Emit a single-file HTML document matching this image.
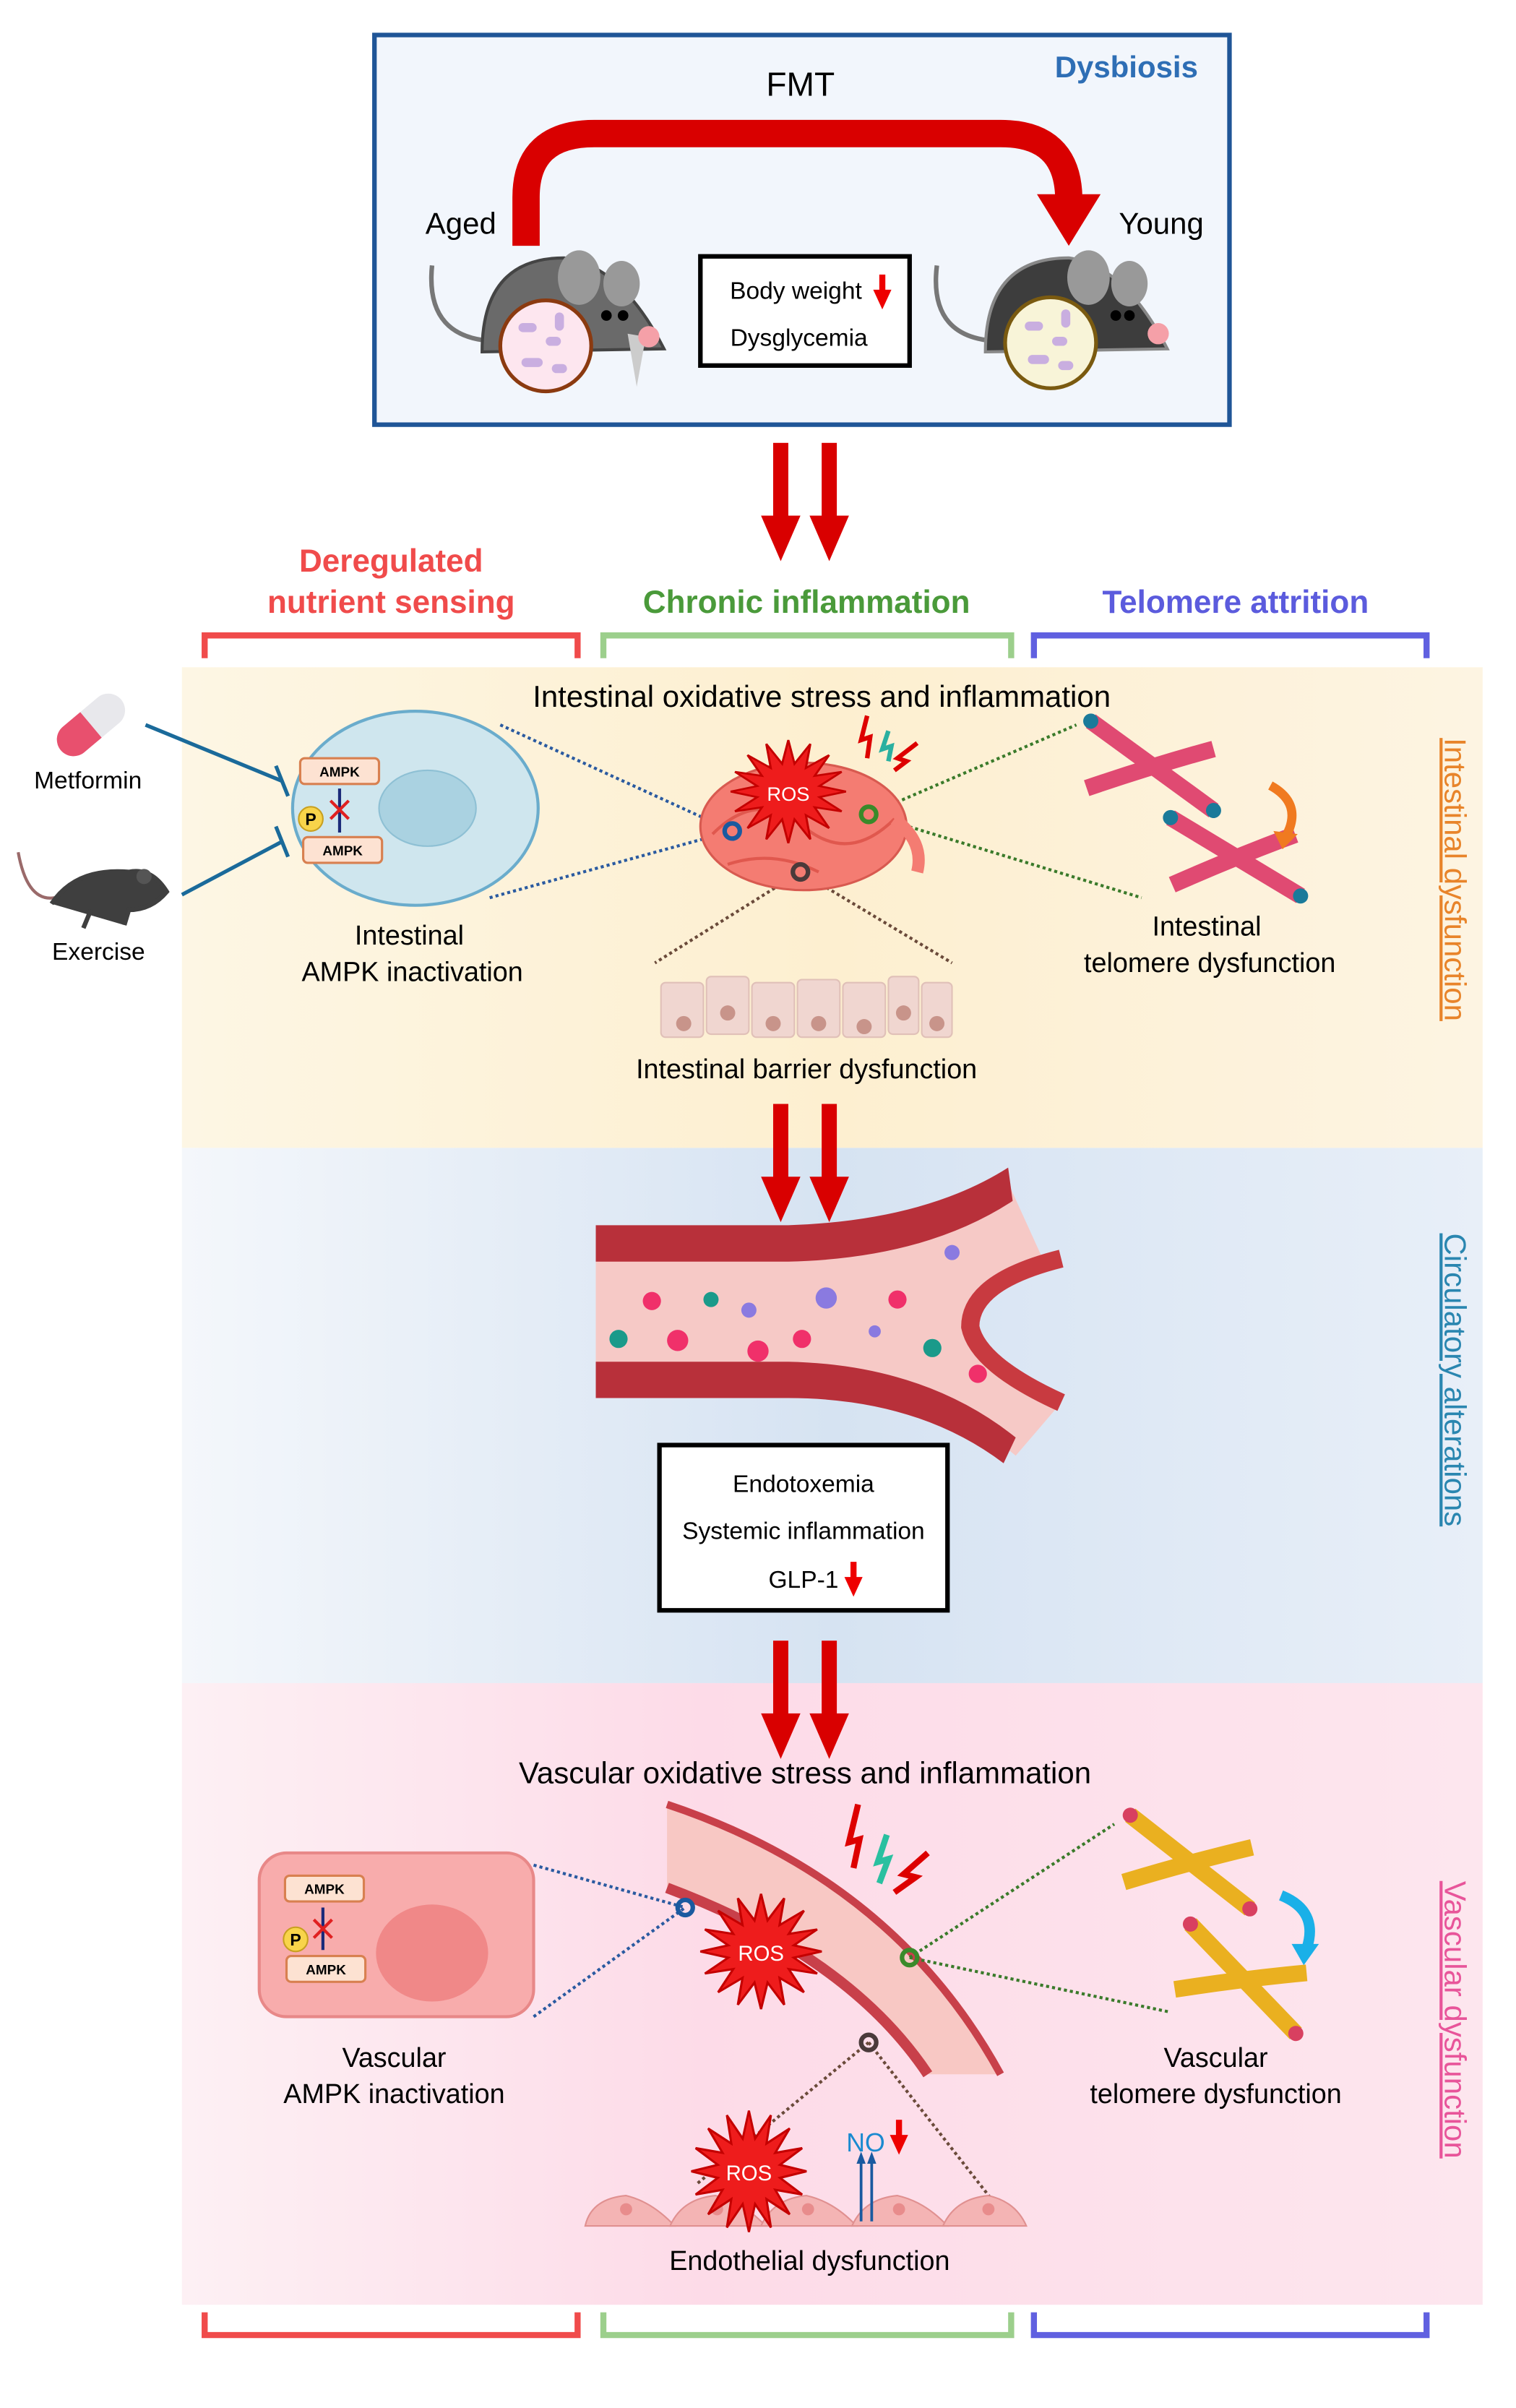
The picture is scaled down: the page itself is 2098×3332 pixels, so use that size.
<!DOCTYPE html>
<html><head><meta charset="utf-8"><style>
html,body{margin:0;padding:0;background:#fff}
svg{display:block}
text{font-family:"Liberation Sans",Arial,sans-serif}
</style></head><body>
<svg width="2098" height="3332" viewBox="0 0 1000 1588" xmlns="http://www.w3.org/2000/svg">
<defs>
<linearGradient id="g1" x1="0" x2="1" y1="0" y2="0"><stop offset="0" stop-color="#fdf6e4"/><stop offset="0.5" stop-color="#fdefd0"/><stop offset="1" stop-color="#fdf4e2"/></linearGradient>
<linearGradient id="g2" x1="0" x2="1" y1="0" y2="0"><stop offset="0" stop-color="#f4f7fb"/><stop offset="0.5" stop-color="#d6e3f2"/><stop offset="1" stop-color="#e8eff8"/></linearGradient>
<linearGradient id="g3" x1="0" x2="1" y1="0" y2="0"><stop offset="0" stop-color="#fdf0f4"/><stop offset="0.4" stop-color="#fddbe8"/><stop offset="1" stop-color="#fde6ee"/></linearGradient>
<polygon id="star" points="40,0 21.6,4.3 37,15.3 18.3,12.2 28.3,28.3 12.2,18.3 15.3,37 4.3,21.6 0,40 -4.3,21.6 -15.3,37 -12.2,18.3 -28.3,28.3 -18.3,12.2 -37,15.3 -21.6,4.3 -40,0 -21.6,-4.3 -37,-15.3 -18.3,-12.2 -28.3,-28.3 -12.2,-18.3 -15.3,-37 -4.3,-21.6 0,-40 4.3,-21.6 15.3,-37 12.2,-18.3 28.3,-28.3 18.3,-12.2 37,-15.3 21.6,-4.3" fill="#ee1c1c" stroke="#c40000" stroke-width="1.5"/>
<g id="darr"><rect x="-5" y="0" width="10" height="50" fill="#d90000"/><polygon points="-13,48 13,48 0,78" fill="#d90000"/></g>
<g id="chrP"><path d="M-45,-22 Q0,0 45,22" stroke="#e04a72" stroke-width="11" fill="none"/><path d="M-40,22 Q0,0 38,-18" stroke="#e04a72" stroke-width="11" fill="none"/><g fill="#1a7a9a"><circle cx="-45" cy="-22" r="5"/><circle cx="45" cy="22" r="5"/></g></g>
<g id="chrY"><path d="M-45,-22 Q0,0 45,22" stroke="#eab020" stroke-width="11" fill="none"/><path d="M-40,22 Q0,0 38,-18" stroke="#eab020" stroke-width="11" fill="none"/><g fill="#d84060"><circle cx="-45" cy="-22" r="5"/><circle cx="45" cy="22" r="5"/></g></g>
</defs>

<rect x="120" y="440" width="858" height="317" fill="url(#g1)"/>
<rect x="120" y="757" width="858" height="353" fill="url(#g2)"/>
<rect x="120" y="1110" width="858" height="410" fill="url(#g3)"/>

<rect x="247" y="23" width="564" height="257" fill="#f2f6fc" stroke="#1f5597" stroke-width="3"/>
<text x="743" y="51" font-size="20" font-weight="bold" fill="#2e6eb5" text-anchor="middle">Dysbiosis</text>
<text x="528" y="63" font-size="22" text-anchor="middle">FMT</text>
<path d="M347,162 L347,130 Q347,88 392,88 L660,88 Q704,88 705,130" fill="none" stroke="#d90000" stroke-width="18"/>
<polygon points="684,128 726,128 705,162" fill="#d90000"/>
<text x="304" y="154" font-size="20" text-anchor="middle">Aged</text>
<text x="766" y="154" font-size="20" text-anchor="middle">Young</text>
<path d="M285,175 Q280,225 330,225" fill="none" stroke="#777" stroke-width="3"/>
<path d="M318,232 Q318,170 372,170 Q410,175 438,230 Z" fill="#6a6a6a" stroke="#444" stroke-width="2"/>
<ellipse cx="382" cy="183" rx="14" ry="18" fill="#999"/><ellipse cx="410" cy="187" rx="12" ry="15" fill="#999"/>
<circle cx="400" cy="208" r="3.5" fill="#000"/><circle cx="411" cy="208" r="3.5" fill="#000"/>
<path d="M414,220 L420,255 L426,222 Z" fill="#ccc"/><circle cx="428" cy="222" r="7" fill="#f5a0a8"/>
<circle cx="360" cy="228" r="30" fill="#fde6ef" stroke="#8b3a10" stroke-width="2.5"/>
<g fill="#c9aee0"><rect x="342" y="213" width="12" height="6" rx="3"/><rect x="360" y="222" width="10" height="6" rx="3"/><rect x="344" y="236" width="14" height="6" rx="3"/><rect x="364" y="240" width="10" height="6" rx="3"/><rect x="366" y="206" width="6" height="12" rx="3"/></g>
<path d="M618,175 Q612,225 662,225" fill="none" stroke="#777" stroke-width="3"/>
<path d="M650,232 Q650,170 705,170 Q742,175 770,230 Z" fill="#3d3d3d" stroke="#888" stroke-width="2"/>
<ellipse cx="718" cy="183" rx="14" ry="18" fill="#999"/><ellipse cx="745" cy="187" rx="12" ry="15" fill="#999"/>
<circle cx="736" cy="208" r="3.5" fill="#000"/><circle cx="745" cy="208" r="3.5" fill="#000"/>
<circle cx="764" cy="220" r="7" fill="#f5a0a8"/>
<circle cx="693" cy="226" r="30" fill="#f8f4d8" stroke="#7a5a10" stroke-width="2.5"/>
<g fill="#c9aee0"><rect x="676" y="212" width="12" height="6" rx="3"/><rect x="694" y="222" width="10" height="6" rx="3"/><rect x="678" y="234" width="14" height="6" rx="3"/><rect x="698" y="238" width="10" height="6" rx="3"/><rect x="700" y="204" width="6" height="12" rx="3"/></g>
<rect x="462" y="169" width="138" height="72" fill="#fff" stroke="#000" stroke-width="3"/>
<text x="525" y="197" font-size="16" text-anchor="middle">Body weight</text>
<rect x="580" y="181" width="4" height="12" fill="#e00"/><polygon points="576,191 588,191 582,204" fill="#e00"/>
<text x="527" y="228" font-size="16" text-anchor="middle">Dysglycemia</text>

<use href="#darr" x="515" y="292"/><use href="#darr" x="547" y="292"/>

<text x="258" y="377" font-size="21" font-weight="bold" fill="#f04b4b" text-anchor="middle">Deregulated</text>
<text x="258" y="404" font-size="21" font-weight="bold" fill="#f04b4b" text-anchor="middle">nutrient sensing</text>
<text x="532" y="404" font-size="21" font-weight="bold" fill="#4a9a3a" text-anchor="middle">Chronic inflammation</text>
<text x="815" y="404" font-size="21" font-weight="bold" fill="#5b5bdd" text-anchor="middle">Telomere attrition</text>
<g fill="none" stroke-width="4">
<path d="M135,434 V419 H381 V434" stroke="#f04b4b"/>
<path d="M398,434 V419 H667 V434" stroke="#9ccf8c"/>
<path d="M682,434 V419 H941 V434" stroke="#6060e0"/>
<path d="M135,1525 V1540 H381 V1525" stroke="#f04b4b"/>
<path d="M398,1525 V1540 H667 V1525" stroke="#9ccf8c"/>
<path d="M682,1525 V1540 H941 V1525" stroke="#6060e0"/>
</g>

<text transform="translate(953,580) rotate(90)" font-size="20" fill="#e8842a" text-anchor="middle" text-decoration="underline">Intestinal dysfunction</text>
<text transform="translate(953,910) rotate(90)" font-size="20" fill="#2a86b0" text-anchor="middle" text-decoration="underline">Circulatory alterations</text>
<text transform="translate(953,1332) rotate(90)" font-size="20" fill="#e8559a" text-anchor="middle" text-decoration="underline">Vascular dysfunction</text>

<text x="542" y="466" font-size="20" text-anchor="middle">Intestinal oxidative stress and inflammation</text>
<g transform="translate(60,478) rotate(-40)"><rect x="-26" y="-11" width="52" height="22" rx="11" fill="#e8e8ec"/><path d="M-15,-11 H0 V11 H-15 A11,11 0 0 1 -15,-11 Z" fill="#e8506e"/></g>
<text x="58" y="520" font-size="16" text-anchor="middle">Metformin</text>
<path d="M12,562 Q18,595 36,592" fill="none" stroke="#9a6a6a" stroke-width="2"/>
<path d="M34,596 Q50,572 85,575 Q100,572 110,588 Q100,600 85,600 L82,610 M60,600 L55,612 Z" fill="#3f3f3f" stroke="#3f3f3f" stroke-width="3"/>
<ellipse cx="95" cy="578" rx="5" ry="5" fill="#555"/>
<text x="65" y="633" font-size="16" text-anchor="middle">Exercise</text>
<path d="M96,478 L186,515 M120,590 L186,555" stroke="#1a6a9a" stroke-width="2.5"/>
<path d="M182,505 L190,525 M182,545 L190,565" stroke="#1a6a9a" stroke-width="2.5"/>
<ellipse cx="274" cy="533" rx="81" ry="64" fill="#cfe6ee" stroke="#6aaccc" stroke-width="2"/>
<ellipse cx="282" cy="533" rx="32" ry="25" fill="#aad2e1" stroke="#8ec0d4"/>
<rect x="198" y="500" width="52" height="17" rx="3" fill="#fde2d2" stroke="#d88050" stroke-width="1.5"/>
<text x="224" y="512" font-size="9" font-weight="bold" text-anchor="middle">AMPK</text>
<rect x="200" y="552" width="52" height="17" rx="3" fill="#fde2d2" stroke="#d88050" stroke-width="1.5"/>
<text x="226" y="564" font-size="9" font-weight="bold" text-anchor="middle">AMPK</text>
<circle cx="205" cy="540" r="8" fill="#f8d44a" stroke="#c8a020"/><text x="205" y="544" font-size="11" font-weight="bold" text-anchor="middle">P</text>
<path d="M224,520 V549" stroke="#1a2a7a" stroke-width="2"/><path d="M218,528 L230,540 M230,528 L218,540" stroke="#e02020" stroke-width="2"/>
<text x="270" y="623" font-size="18" text-anchor="middle">Intestinal</text>
<text x="272" y="647" font-size="18" text-anchor="middle">AMPK inactivation</text>
<g stroke-dasharray="2,2" stroke-width="2" fill="none">
<path d="M330,478 L483,548 M323,592 L483,548" stroke="#2a5aa0"/>
<path d="M573,537 L710,478 M573,537 L753,592" stroke="#3a7a2a"/>
<path d="M528,575 L432,635 M528,575 L628,635" stroke="#6a4a3a"/>
</g>
<ellipse cx="530" cy="545" rx="68" ry="42" fill="#f47c72" stroke="#d85a50" stroke-width="1.5"/>
<path d="M470,550 Q500,520 530,545 Q560,570 590,540 M480,570 Q510,560 540,575" fill="none" stroke="#e0584e" stroke-width="2"/>
<path d="M590,540 Q610,555 605,575" fill="none" stroke="#f47c72" stroke-width="8"/>
<use href="#star" transform="translate(520,522) scale(0.95,0.85)"/>
<text x="520" y="528" font-size="13" fill="#fff" text-anchor="middle">ROS</text>
<circle cx="483" cy="548" r="5" fill="none" stroke="#1a5aa0" stroke-width="3"/>
<circle cx="573" cy="537" r="5" fill="none" stroke="#3a8a2a" stroke-width="3"/>
<circle cx="528" cy="575" r="5" fill="none" stroke="#4a3a3a" stroke-width="3"/>
<path d="M572,472 L568,488 L574,486 L572,500" fill="none" stroke="#d00" stroke-width="3"/>
<path d="M586,482 L582,494 L588,492 L586,502" fill="none" stroke="#2ab0a0" stroke-width="3"/>
<path d="M605,490 L592,500 L598,502 L590,508" fill="none" stroke="#d00" stroke-width="3"/>
<use href="#chrP" transform="translate(760,505) rotate(10)"/>
<use href="#chrP" transform="translate(815,565) rotate(5)"/>
<path d="M838,518 Q860,530 848,552" fill="none" stroke="#f07a20" stroke-width="6"/>
<polygon points="840,548 856,550 846,560" fill="#f07a20"/>
<text x="796" y="617" font-size="18" text-anchor="middle">Intestinal</text>
<text x="798" y="641" font-size="18" text-anchor="middle">telomere dysfunction</text>
<g fill="#f0d6d0" stroke="#e0c0b8">
<rect x="436" y="648" width="28" height="36" rx="3"/><rect x="466" y="644" width="28" height="38" rx="3"/><rect x="496" y="648" width="28" height="36" rx="3"/><rect x="526" y="646" width="28" height="38" rx="3"/><rect x="556" y="648" width="28" height="36" rx="3"/><rect x="586" y="644" width="20" height="38" rx="3"/><rect x="608" y="648" width="20" height="36" rx="3"/>
</g>
<g fill="#c8948a"><circle cx="451" cy="675" r="5"/><circle cx="480" cy="668" r="5"/><circle cx="510" cy="675" r="5"/><circle cx="540" cy="675" r="5"/><circle cx="570" cy="677" r="5"/><circle cx="596" cy="668" r="5"/><circle cx="618" cy="675" r="5"/></g>
<text x="532" y="711" font-size="18" text-anchor="middle">Intestinal barrier dysfunction</text>

<use href="#darr" x="515" y="728"/><use href="#darr" x="547" y="728"/>

<path d="M393,820 L520,820 Q610,815 665,780 L690,835 Q640,855 640,875 Q650,895 700,925 L670,960 Q610,910 520,910 L393,910 Z" fill="#f6c9c6"/>
<path d="M393,808 L520,808 Q610,805 665,770 L668,792 Q610,830 520,832 L393,832 Z" fill="#b8303a"/>
<path d="M393,898 L520,898 Q610,900 670,948 L662,965 Q605,922 520,922 L393,922 Z" fill="#b8303a"/>
<path d="M700,830 Q640,845 640,875 Q645,900 700,925" fill="none" stroke="#c83a40" stroke-width="12"/>
<g><circle cx="430" cy="858" r="6" fill="#f0306a"/><circle cx="469" cy="857" r="5" fill="#1a9a8a"/><circle cx="494" cy="864" r="5" fill="#8a7ae0"/><circle cx="545" cy="856" r="7" fill="#8a7ae0"/><circle cx="592" cy="857" r="6" fill="#f0306a"/><circle cx="628" cy="826" r="5" fill="#8a7ae0"/><circle cx="408" cy="883" r="6" fill="#1a9a8a"/><circle cx="447" cy="884" r="7" fill="#f0306a"/><circle cx="500" cy="891" r="7" fill="#f0306a"/><circle cx="529" cy="883" r="6" fill="#f0306a"/><circle cx="577" cy="878" r="4" fill="#8a7ae0"/><circle cx="615" cy="889" r="6" fill="#1a9a8a"/><circle cx="645" cy="906" r="6" fill="#f0306a"/></g>
<rect x="435" y="953" width="190" height="109" fill="#fff" stroke="#000" stroke-width="3"/>
<text x="530" y="984" font-size="16" text-anchor="middle">Endotoxemia</text>
<text x="530" y="1015" font-size="16" text-anchor="middle">Systemic inflammation</text>
<text x="530" y="1047" font-size="16" text-anchor="middle">GLP-1</text>
<rect x="561" y="1030" width="4" height="12" fill="#e00"/><polygon points="557,1040 569,1040 563,1053" fill="#e00"/>

<use href="#darr" x="515" y="1082"/><use href="#darr" x="547" y="1082"/>

<text x="531" y="1176" font-size="20" text-anchor="middle">Vascular oxidative stress and inflammation</text>
<rect x="171" y="1222" width="181" height="108" rx="18" fill="#f8acac" stroke="#e88888" stroke-width="2"/>
<ellipse cx="285" cy="1288" rx="37" ry="32" fill="#f08888"/>
<rect x="188" y="1237" width="52" height="17" rx="3" fill="#fde2d2" stroke="#d88050" stroke-width="1.5"/>
<text x="214" y="1249" font-size="9" font-weight="bold" text-anchor="middle">AMPK</text>
<rect x="189" y="1290" width="52" height="17" rx="3" fill="#fde2d2" stroke="#d88050" stroke-width="1.5"/>
<text x="215" y="1302" font-size="9" font-weight="bold" text-anchor="middle">AMPK</text>
<circle cx="195" cy="1279" r="8" fill="#f8d44a" stroke="#c8a020"/><text x="195" y="1283" font-size="11" font-weight="bold" text-anchor="middle">P</text>
<path d="M213,1258 V1286" stroke="#1a2a7a" stroke-width="2"/><path d="M207,1266 L219,1278 M219,1266 L207,1278" stroke="#e02020" stroke-width="2"/>
<text x="260" y="1363" font-size="18" text-anchor="middle">Vascular</text>
<text x="260" y="1387" font-size="18" text-anchor="middle">AMPK inactivation</text>
<path d="M440,1190 Q590,1240 660,1368 L612,1368 Q560,1290 440,1245 Z" fill="#f8c8c4"/>
<path d="M440,1190 Q590,1240 660,1368" fill="none" stroke="#c8404a" stroke-width="5"/>
<path d="M440,1245 Q560,1290 612,1368" fill="none" stroke="#c8404a" stroke-width="7"/>
<g stroke-dasharray="2,2" stroke-width="2" fill="none">
<path d="M352,1230 L452,1258 M352,1330 L452,1258" stroke="#2a5aa0"/>
<path d="M600,1291 L735,1203 M600,1291 L772,1327" stroke="#3a7a2a"/>
<path d="M573,1347 L460,1440 M573,1347 L660,1458" stroke="#6a4a3a"/>
</g>
<use href="#star" transform="translate(502,1287) scale(1,0.95)"/>
<text x="502" y="1293" font-size="14" fill="#fff" text-anchor="middle">ROS</text>
<circle cx="452" cy="1258" r="5" fill="none" stroke="#1a5aa0" stroke-width="3"/>
<circle cx="600" cy="1291" r="5" fill="none" stroke="#3a8a2a" stroke-width="3"/>
<circle cx="573" cy="1347" r="5" fill="none" stroke="#4a3a3a" stroke-width="3"/>
<path d="M566,1190 L560,1215 L567,1213 L563,1232" fill="none" stroke="#d00" stroke-width="4"/>
<path d="M585,1210 L579,1228 L586,1226 L580,1242" fill="none" stroke="#2ac0a0" stroke-width="4"/>
<path d="M612,1222 L596,1236 L604,1238 L590,1248" fill="none" stroke="#d00" stroke-width="4"/>
<use href="#chrY" transform="translate(785,1228) rotate(12)"/>
<use href="#chrY" transform="translate(820,1305) rotate(20)"/>
<path d="M845,1250 Q870,1260 862,1285" fill="none" stroke="#1ab0e8" stroke-width="7"/>
<polygon points="852,1282 870,1282 860,1296" fill="#1ab0e8"/>
<text x="802" y="1363" font-size="18" text-anchor="middle">Vascular</text>
<text x="802" y="1387" font-size="18" text-anchor="middle">telomere dysfunction</text>
<g fill="#f4b4b4" stroke="#e09090"><path d="M386,1468 Q390,1450 413,1448 Q430,1452 445,1468 Z"/><path d="M442,1468 Q450,1450 472,1448 Q490,1452 505,1468 Z"/><path d="M502,1468 Q510,1450 532,1448 Q550,1452 565,1468 Z"/><path d="M562,1468 Q570,1450 592,1448 Q610,1452 625,1468 Z"/><path d="M622,1468 Q630,1450 652,1448 Q670,1452 677,1468 Z"/></g>
<g fill="#e88c8c"><circle cx="413" cy="1457" r="4"/><circle cx="473" cy="1457" r="4"/><circle cx="533" cy="1457" r="4"/><circle cx="593" cy="1457" r="4"/><circle cx="652" cy="1457" r="4"/></g>
<use href="#star" transform="translate(494,1432) scale(0.95,1)"/>
<text x="494" y="1438" font-size="14" fill="#fff" text-anchor="middle">ROS</text>
<path d="M568,1465 V1425 M575,1465 V1425" stroke="#1a5aa0" stroke-width="1.8"/>
<polygon points="565,1427 571,1427 568,1419" fill="#1a5aa0"/><polygon points="572,1427 578,1427 575,1419" fill="#1a5aa0"/>
<text x="571" y="1419" font-size="17" fill="#1a8ad0" text-anchor="middle">NO</text>
<rect x="591" y="1398" width="4" height="12" fill="#e00"/><polygon points="587,1408 599,1408 593,1421" fill="#e00"/>
<text x="534" y="1497" font-size="18" text-anchor="middle">Endothelial dysfunction</text>
</svg>
</body></html>
